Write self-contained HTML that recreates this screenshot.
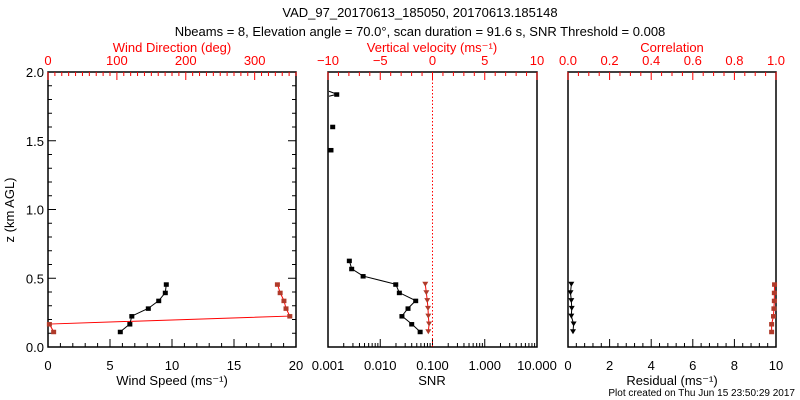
<!DOCTYPE html>
<html><head><meta charset="utf-8"><style>
body{margin:0;background:#fff}
svg{display:block;font-family:"Liberation Sans",sans-serif}
</style></head><body>
<svg id="c" width="800" height="400"></svg>
<script>
const heights=[0.456,0.395,0.337,0.281,0.225,0.167,0.111];
const windSpeed=[9.54,9.46,8.93,8.09,6.76,6.6,5.83];
const windDir=[333,337,342.5,345.5,351,2,8.2];
const snrHeights=[1.838,1.602,1.433,0.628,0.569,0.516,0.456,0.395,0.337,0.281,0.225,0.167,0.111];
const snrValues=[0.00147,0.00123,0.00114,0.00256,0.00284,0.0047,0.0198,0.0232,0.0477,0.034,0.026,0.040,0.058];
const vertVel=[-0.69,-0.59,-0.5,-0.43,-0.4,-0.33,-0.4];
const residual=[0.16,0.12,0.16,0.18,0.16,0.27,0.24];
const correlation=[0.993,0.992,0.992,0.99,0.988,0.979,0.979];
const yTicks=["0.0","0.5","1.0","1.5","2.0"];
const wsTicks=["0","5","10","15","20"];
const wdTicks=["0","100","200","300"];
const vvTicks=["\u221210","\u22125","0","5","10"];
const snrTicks=["0.001","0.010","0.100","1.000","10.000"];
const resTicks=["0","2","4","6","8","10"];
const corTicks=["0.0","0.2","0.4","0.6","0.8","1.0"];

const S=document.getElementById('c'),NS='http://www.w3.org/2000/svg';
const RED='#ff0000',BR='#b03a2a';
const Y0=347,Y1=72;
const y=z=>Y0-(z/2)*(Y0-Y1);
function el(t,a,txt){const e=document.createElementNS(NS,t);for(const k in a)e.setAttribute(k,a[k]);if(txt!=null)e.textContent=txt;S.appendChild(e);return e;}
function txt(x,yy,s,col,anchor,size,name){const e=el('text',{x:x,y:yy,fill:col,'text-anchor':anchor||'middle','font-size':size||13},s);

return e;}
function line(x1,y1,x2,y2,col,w,dash){const e=el('line',{x1,y1,x2,y2,stroke:col,'stroke-width':w||1});if(dash)e.setAttribute('stroke-dasharray',dash);

return e;}
function frame(L,R,name){const e=el('rect',{x:L,y:Y1,width:R-L,height:Y0-Y1,fill:'none',stroke:'#000','stroke-width':1.5});

}
function linTicks(L,R,lo,hi,step,minor,pos,col){const f=v=>L+(v-lo)/(hi-lo)*(R-L);
for(let v=lo;v<=hi+1e-9;v+=minor){const isM=Math.abs((v-lo)/step-Math.round((v-lo)/step))<1e-6;const len=isM?8:4;const X=f(v);
if(pos==='b')line(X,Y0,X,Y0-len,col);else line(X,Y1,X,Y1+len,col);}return f;}
function series(xs,zs,fx,col,mcol,name,sym){const pts=xs.map((v,i)=>[fx(v),y(zs[i])]);
const p=el('polyline',{points:pts.map(p=>p.join(',')).join(' '),fill:'none',stroke:col,'stroke-width':1});


pts.forEach(q=>{const m=sym==='tri'?el('path',{d:`M${q[0]-3},${q[1]-2.5}h6l-3,5z`,fill:mcol}):el('rect',{x:q[0]-2.5,y:q[1]-2,width:5,height:4.5,fill:mcol});

});}

// titles
txt(420,17,"VAD_97_20170613_185050, 20170613.185148","#000","middle",13,"title");
txt(420,36,"Nbeams = 8, Elevation angle = 70.0\u00b0, scan duration = 91.6 s, SNR Threshold = 0.008","#000","middle",13,"subtitle");

// Panel 1
const P1L=48,P1R=296;
frame(P1L,P1R,'wind-panel');
for(let v=0;v<=2.0001;v+=0.1){const isM=Math.abs(v*2-Math.round(v*2))<1e-6;const len=isM?8:4;line(P1L,y(v),P1L+len,y(v),'#000');line(P1R,y(v),P1R-len,y(v),'#000');}
yTicks.forEach((t,i)=>txt(44,y(i*0.5)+5,t,'#000','end',13,'y-tick-label'));
const t1=el('text',{x:0,y:0,transform:`translate(14,210) rotate(-90)`,'text-anchor':'middle','font-size':13,fill:'#000'},'z (km AGL)');

const fWS=linTicks(P1L,P1R,0,20,5,1,'b','#000');
wsTicks.forEach((t,i)=>txt(fWS(i*5),370,t,'#000','middle',13,'x-tick-label'));
txt(172,385,"Wind Speed (ms\u207b\u00b9)","#000","middle",13,"x-axis-title");
const fWD=linTicks(P1L,P1R,0,360,100,10,'t',RED);
wdTicks.forEach((t,i)=>txt(fWD(i*100),65,t,RED,'middle',13,'top-tick-label'));
txt(172,52,"Wind Direction (deg)",RED,"middle",13,"top-axis-title");
series(windDir,heights,fWD,RED,BR,'wind-direction');
series(windSpeed,heights,fWS,'#000','#000','wind-speed');

// Panel 2
const P2L=328,P2R=537;
frame(P2L,P2R,'snr-panel');
const fL=v=>P2L+(Math.log10(v)+3)/4*(P2R-P2L);
for(let d=-3;d<1;d++)for(let k=1;k<10;k++){const X=fL(k*Math.pow(10,d));line(X,Y0,X,Y0-(k===1?8:4),'#000');}
line(P2R,Y0,P2R,Y0-8,'#000');
snrTicks.forEach((t,i)=>txt(fL(Math.pow(10,i-3)),370,t,'#000','middle',13,'x-tick-label'));
txt(432,385,"SNR","#000","middle",13,"x-axis-title");
const fVV=linTicks(P2L,P2R,-10,10,5,1,'t',RED);
vvTicks.forEach((t,i)=>txt(fVV(-10+i*5),65,t,RED,'middle',13,'top-tick-label'));
txt(432,52,"Vertical velocity (ms\u207b\u00b9)",RED,"middle",13,"top-axis-title");
line(fVV(0),Y1,fVV(0),Y0,RED,1,'1.5,2');
series(snrValues.slice(0,1),snrHeights.slice(0,1),fL,'#000','#000','snr-top');
line(329,y(1.838)-3,337,y(1.838),'#000');line(329,y(1.838)+2,337,y(1.838),'#000');
series(snrValues.slice(1,2),snrHeights.slice(1,2),fL,'#000','#000','snr-isolated');
series(snrValues.slice(2,3),snrHeights.slice(2,3),fL,'#000','#000','snr-isolated');
series(snrValues.slice(3),snrHeights.slice(3),fL,'#000','#000','snr');
series(vertVel,heights,fVV,RED,BR,'vertical-velocity','tri');

// Panel 3
const P3L=568,P3R=776;
frame(P3L,P3R,'residual-panel');
const fR=linTicks(P3L,P3R,0,10,2,0.4,'b','#000');
resTicks.forEach((t,i)=>txt(fR(i*2),370,t,'#000','middle',13,'x-tick-label'));
txt(672,385,"Residual (ms\u207b\u00b9)","#000","middle",13,"x-axis-title");
const fC=linTicks(P3L,P3R,0,1,0.2,0.05,'t',RED);
corTicks.forEach((t,i)=>txt(fC(i*0.2),65,t,RED,'middle',13,'top-tick-label'));
txt(672,52,"Correlation",RED,"middle",13,"top-axis-title");
series(correlation,heights,fC,RED,BR,'correlation');
series(residual,heights,fR,'#000','#000','residual','tri');
txt(795,396,"Plot created on Thu Jun 15 23:50:29 2017","#000","end",10,"footer");
</script>
</body></html>
